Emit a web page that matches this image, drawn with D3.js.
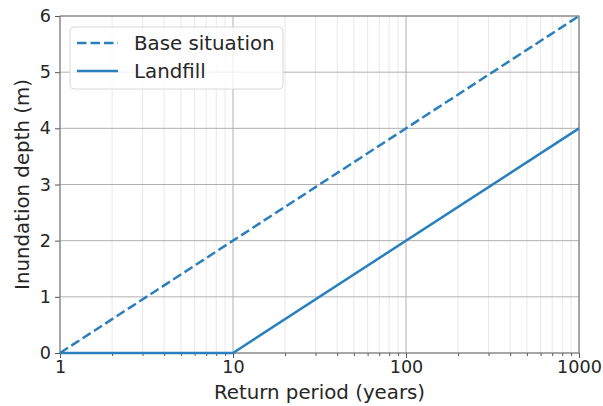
<!DOCTYPE html>
<meta charset="utf-8">
<style>
  body { margin: 0; background: #fff; }
  svg text { font-family: "DejaVu Sans", sans-serif; fill: #262626; }
</style>
<script src="https://d3js.org/d3.v7.min.js"></script>
<div id="chart"></div>
<script>
  // data
  var returnPeriod = [1, 10, 1000];
  var baseDepth = [0, 2, 6];
  var landfillDepth = [0, 0, 4];
  var xTicks = [1, 10, 100, 1000];
  var yTicks = [0, 1, 2, 3, 4, 5, 6];
  var seriesNames = ["Base situation", "Landfill"];

  var W = 603, H = 406;
  var margin = {top: 16, right: 24, bottom: 53, left: 60};
  var width = W - margin.left - margin.right,
      height = H - margin.top - margin.bottom;
  var lineColor = "#2a7fbd";
  var dash = "9.5,4";

  var svg = d3.select("#chart").append("svg")
      .attr("width", W).attr("height", H)
    .append("g")
      .attr("transform", "translate(" + margin.left + "," + margin.top + ")");

  var x = d3.scaleLog().domain([1, 1000]).range([0, width]);
  var y = d3.scaleLinear().domain([0, 6]).range([height, 0]);

  // minor ticks for log axis
  var minor = [];
  [1, 10, 100].forEach(function(d) {
    for (var k = 2; k <= 9; k++) minor.push(d * k);
  });

  // grid
  svg.append("g").selectAll("line.minor").data(minor).enter().append("line")
    .attr("x1", d => x(d)).attr("x2", d => x(d))
    .attr("y1", 0).attr("y2", height)
    .style("stroke", "#e8e8e8").style("stroke-width", 1);
  svg.append("g").selectAll("line.vmaj").data(xTicks).enter().append("line")
    .attr("x1", d => x(d)).attr("x2", d => x(d))
    .attr("y1", 0).attr("y2", height)
    .style("stroke", "#b0b0b0").style("stroke-width", 1);
  svg.append("g").selectAll("line.hmaj").data(yTicks).enter().append("line")
    .attr("x1", 0).attr("x2", width)
    .attr("y1", d => y(d)).attr("y2", d => y(d))
    .style("stroke", "#b0b0b0").style("stroke-width", 1);

  // axes
  svg.append("g")
    .attr("transform", "translate(0," + height + ")")
    .call(d3.axisBottom(x).tickValues(xTicks).tickFormat(d3.format("d")).tickSize(5).tickPadding(3));
  svg.append("g")
    .attr("transform", "translate(0," + height + ")")
    .call(d3.axisBottom(x).tickValues(minor).tickFormat("").tickSize(3))
    .call(g => g.select(".domain").remove());
  svg.append("g")
    .call(d3.axisLeft(y).tickValues(yTicks).tickFormat(d3.format("d")).tickSize(5).tickPadding(4));

  svg.selectAll(".tick text").style("font-size", "17.6px").style("font-family", "DejaVu Sans");
  svg.selectAll(".tick line").style("stroke", "#555");
  svg.selectAll(".domain").remove();

  // frame
  svg.append("rect").attr("width", width).attr("height", height)
    .style("fill", "none").style("stroke", "#777").style("stroke-width", 1);

  // lines
  var line = d3.line().x(d => x(d[0])).y(d => y(d[1]));
  svg.append("path")
    .datum(returnPeriod.map((d, i) => [d, baseDepth[i]]))
    .attr("d", line)
    .style("fill", "none").style("stroke", lineColor)
    .style("stroke-width", 2.5).style("stroke-dasharray", dash);
  svg.append("path")
    .datum(returnPeriod.map((d, i) => [d, landfillDepth[i]]))
    .attr("d", line)
    .style("fill", "none").style("stroke", lineColor)
    .style("stroke-width", 2.5);

  // legend
  var lg = svg.append("g").attr("transform", "translate(10,11)");
  lg.append("rect").attr("width", 213).attr("height", 62).attr("rx", 4)
    .style("fill", "#fff").style("fill-opacity", 0.8)
    .style("stroke", "#d8d8d8");
  seriesNames.forEach(function(name, i) {
    var yy = 16 + i * 28;
    lg.append("line").attr("x1", 7).attr("x2", 48).attr("y1", yy).attr("y2", yy)
      .style("stroke", lineColor).style("stroke-width", 2.5)
      .style("stroke-dasharray", i === 0 ? dash : null);
    lg.append("text").attr("x", 64).attr("y", yy).attr("dy", "0.35em")
      .style("font-size", "19.8px").text(name);
  });

  // labels
  svg.append("text")
    .attr("x", width / 2).attr("y", height + 46)
    .attr("text-anchor", "middle").style("font-size", "19.8px")
    .text("Return period (years)");
  svg.append("text")
    .attr("transform", "translate(-31," + height / 2 + ") rotate(-90)")
    .attr("text-anchor", "middle").style("font-size", "19.8px")
    .text("Inundation depth (m)");
</script>
